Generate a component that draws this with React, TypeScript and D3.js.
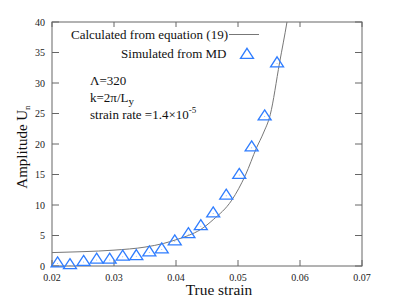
import React from 'react';
import * as d3 from 'd3';

// simulated points (triangles)
const strainMD = [0.0209, 0.0229, 0.0251, 0.0272, 0.0293, 0.0314, 0.0336, 0.0357, 0.0377, 0.0398,
  0.042, 0.044, 0.046, 0.0481, 0.0502, 0.0522, 0.0543, 0.0563];
const ampMD = [0.4, 0.1, 0.65, 1.0, 1.0, 1.5, 1.6, 2.2, 2.7, 4.0,
  5.2, 6.5, 8.6, 11.5, 14.9, 19.4, 24.5, 33.2];

// curve from equation (19)
const strainEq = [0.02, 0.025, 0.03, 0.035, 0.038, 0.04, 0.042, 0.044, 0.046, 0.049, 0.0512, 0.053, 0.0541, 0.0552, 0.0567, 0.0579, 0.0586];
const ampEq = [2.2, 2.35, 2.6, 3.1, 3.7, 4.3, 5.0, 6.0, 7.6, 10.8, 14.9, 19.4, 21.8, 24.8, 33.3, 40, 44.5];

const xTicks = [0.02, 0.03, 0.04, 0.05, 0.06, 0.07];
const yTicks = [0, 5, 10, 15, 20, 25, 30, 35, 40];

const W = 399;
const H = 299;
const margin = { top: 22, right: 37, bottom: 33, left: 52 };
const serif = "'Liberation Serif', 'Times New Roman', Tinos, 'DejaVu Serif', serif";
const blue = '#2f7dff';
const frame = '#666';

const tri = 'M0,-6.7L6.5,3.3L-6.5,3.3Z';

export default function App() {
  const x = d3.scaleLinear().domain([0.02, 0.07]).range([margin.left, W - margin.right]);
  const y = d3.scaleLinear().domain([0, 40]).range([H - margin.bottom, margin.top]);

  const curve = d3.line<number>()
    .x((d, i) => x(strainEq[i]))
    .y(d => y(d))
    .curve(d3.curveMonotoneX);

  const x0 = margin.left, x1 = W - margin.right;
  const y0 = margin.top, y1 = H - margin.bottom;
  const ts = { fontFamily: serif };

  return (
    <svg width={W} height={H} style={{ position: 'absolute', left: 0, top: 0, background: '#fff', fontFamily: serif }}>
      <defs>
        <clipPath id="plot">
          <rect x={x0} y={y0} width={x1 - x0} height={y1 - y0} />
        </clipPath>
      </defs>

      {/* ticks, inward on all four sides */}
      {yTicks.map(t => (
        <g key={'y' + t} stroke={frame} strokeWidth={1}>
          <line x1={x0} x2={x0 + 7} y1={y(t)} y2={y(t)} />
          <line x1={x1} x2={x1 - 7} y1={y(t)} y2={y(t)} />
        </g>
      ))}
      {xTicks.map(t => (
        <g key={'x' + t} stroke={frame} strokeWidth={1}>
          <line x1={x(t)} x2={x(t)} y1={y1} y2={y1 - 6} />
          <line x1={x(t)} x2={x(t)} y1={y0} y2={y0 + 5} />
        </g>
      ))}

      <rect x={x0} y={y0} width={x1 - x0} height={y1 - y0} fill="none" stroke={frame} strokeWidth={1} />

      {yTicks.map(t => (
        <text key={'yl' + t} style={ts} x={x0 - 7} y={y(t) + 3.5} textAnchor="end" fontSize={10} fill="#222">{t}</text>
      ))}
      {xTicks.map(t => (
        <text key={'xl' + t} style={ts} x={x(t)} y={281} textAnchor="middle" fontSize={10} fill="#222">{t.toFixed(2)}</text>
      ))}

      <path d={curve(ampEq) || ''} fill="none" stroke="#777" strokeWidth={1} clipPath="url(#plot)" />

      {ampMD.map((v, i) => (
        <g key={'p' + i} transform={`translate(${x(strainMD[i])},${y(v)})`}>
          <path d={tri} fill="none" stroke={blue} strokeWidth={1.3} />
          <circle r={0.5} fill={blue} opacity={0.6} />
        </g>
      ))}

      {/* legend */}
      <text style={ts} x={228} y={38.5} textAnchor="end" fontSize={13} fill="#111">Calculated from equation (19)</text>
      <line x1={229} x2={259} y1={34.5} y2={34.5} stroke="#777" strokeWidth={1} />
      <text style={ts} x={226.5} y={57.5} textAnchor="end" fontSize={13} fill="#111">Simulated from MD</text>
      <path d={tri} transform="translate(247,55)" fill="none" stroke={blue} strokeWidth={1.3} />

      {/* annotations */}
      <text style={ts} x={90} y={85} fontSize={13} fill="#111">Λ=320</text>
      <text style={ts} x={90} y={101.5} fontSize={13} fill="#111">k=2π/L<tspan dy={3} fontSize={11}>y</tspan></text>
      <text style={ts} x={90} y={119} fontSize={13} fill="#111">strain rate =1.4×10<tspan dy={-6} fontSize={9}>-5</tspan></text>

      {/* axis titles */}
      <text style={ts} transform="translate(219,295) scale(1.1,1)" textAnchor="middle" fontSize={14} fill="#111">True strain</text>
      <text style={ts} transform="translate(27,147) rotate(-90)" textAnchor="middle" fontSize={15} fill="#111">
        Amplitude U<tspan dy={3} fontSize={9}>n</tspan>
      </text>
    </svg>
  );
}
